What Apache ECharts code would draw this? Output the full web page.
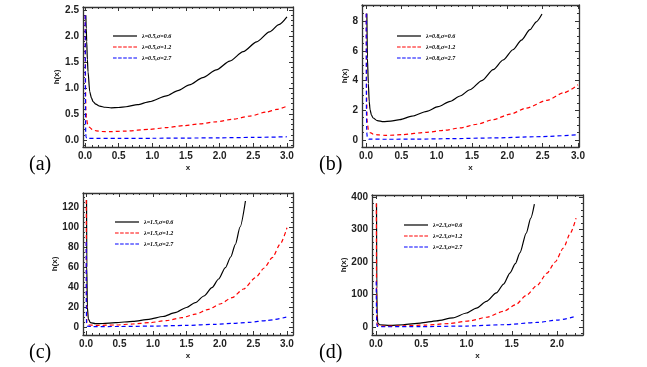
<!DOCTYPE html>
<html><head><meta charset="utf-8">
<script src="https://cdn.jsdelivr.net/npm/echarts@6/dist/echarts.min.js"></script>
<style>html,body{margin:0;padding:0;background:#fff}#c{width:647px;height:367px}</style>
</head><body><div id="c"></div>
<script>
// ---- tick labels ----
const xTicks3 = [0, 0.5, 1, 1.5, 2, 2.5, 3];
const xTicks2 = [0, 0.5, 1, 1.5, 2];
const yTicksA = [0, 0.5, 1, 1.5, 2, 2.5];
const yTicksB = [0, 2, 4, 6, 8];
const yTicksC = [0, 20, 40, 60, 80, 100, 120];
const yTicksD = [0, 100, 200, 300, 400];
const panelLetters = ['(a)', '(b)', '(c)', '(d)'];
const lambdas = ['0.5', '0.8', '1.5', '2.3'];
const sigmas = ['0.6', '1.2', '2.7'];

// ---- series values [x, h(x)] ----
const a06 = [[0.012,2.4],[0.018,2.15],[0.025,1.9],[0.035,1.55],[0.045,1.31],[0.07,0.93],[0.095,0.81],[0.12,0.74],[0.16,0.69],[0.22,0.65],[0.3,0.63],[0.39,0.62],[0.5,0.625],[0.61,0.64],[0.78,0.68],[0.96,0.74],[1.21,0.85],[1.38,0.95],[1.55,1.06],[1.75,1.2],[1.95,1.35],[2.15,1.52],[2.35,1.70],[2.55,1.89],[2.74,2.08],[2.88,2.22],[3.0,2.37]];
const a12 = [[0.004,2.4],[0.008,1.0],[0.012,0.6],[0.02,0.42],[0.04,0.3],[0.07,0.24],[0.11,0.2],[0.17,0.175],[0.25,0.165],[0.37,0.16],[0.6,0.172],[0.96,0.205],[1.2,0.237],[1.46,0.275],[1.7,0.31],[1.95,0.35],[2.2,0.4],[2.45,0.46],[2.7,0.54],[2.85,0.59],[3.0,0.65]];
const a27 = [[0.003,2.4],[0.006,0.8],[0.01,0.15],[0.015,0.05],[0.03,0.032],[0.5,0.03],[1.0,0.033],[1.5,0.037],[2.0,0.042],[2.5,0.05],[3.0,0.062]];

const b06 = [[0.012,8.5],[0.02,5.5],[0.033,3.8],[0.045,2.6],[0.057,2.04],[0.075,1.7],[0.1,1.48],[0.16,1.3],[0.245,1.23],[0.35,1.27],[0.48,1.37],[0.65,1.6],[0.86,1.93],[1.02,2.24],[1.19,2.6],[1.33,2.96],[1.47,3.38],[1.64,4.0],[1.8,4.73],[1.94,5.38],[2.08,6.07],[2.2,6.72],[2.32,7.42],[2.41,7.95],[2.49,8.47]];
const b12 = [[0.004,8.5],[0.008,3.0],[0.015,1.3],[0.033,0.69],[0.06,0.5],[0.1,0.4],[0.18,0.34],[0.29,0.31],[0.5,0.36],[0.86,0.52],[1.1,0.65],[1.33,0.81],[1.57,1.06],[1.8,1.37],[2.04,1.74],[2.27,2.15],[2.56,2.67],[2.8,3.18],[3.0,3.72]];
const b27 = [[0.003,8.5],[0.006,2],[0.01,0.5],[0.02,0.12],[0.04,0.06],[0.3,0.05],[0.7,0.06],[1.2,0.09],[1.8,0.14],[2.4,0.22],[3.0,0.35]];

const c06 = [[0.008,127],[0.012,60],[0.02,20],[0.035,8],[0.065,4.3],[0.14,3.3],[0.25,3.5],[0.44,4.3],[0.7,5.7],[0.94,7.7],[1.15,10.5],[1.33,14.3],[1.5,19.5],[1.63,24.3],[1.76,31],[1.88,39.3],[1.98,48],[2.08,59.3],[2.16,70],[2.23,82.7],[2.3,100],[2.38,126]];
const c12 = [[0.004,127],[0.007,25],[0.012,4],[0.03,2],[0.15,1.6],[0.44,2],[0.7,3],[0.94,4.3],[1.2,6.4],[1.43,9.3],[1.63,12.8],[1.83,17.7],[2.0,23],[2.18,29.3],[2.35,38],[2.53,49.3],[2.66,59],[2.78,69.3],[2.9,83],[3.0,99.3]];
const c27 = [[0.003,85],[0.005,20],[0.008,3],[0.015,0.8],[0.1,0.4],[0.5,0.5],[1.0,0.9],[1.5,1.6],[1.93,2.7],[2.2,3.6],[2.43,4.6],[2.7,6.5],[3.0,10]];

const d06 = [[0.006,380],[0.009,120],[0.013,40],[0.02,12],[0.04,7],[0.155,5],[0.3,7],[0.49,12],[0.67,19],[0.85,28],[1.0,43],[1.11,58],[1.22,79],[1.33,105],[1.41,132],[1.48,166],[1.54,195],[1.59,228],[1.66,289],[1.71,335],[1.75,378]];
const d12 = [[0.004,380],[0.007,50],[0.012,8],[0.03,3],[0.1,2.5],[0.3,3.5],[0.55,6],[0.8,10.5],[1.04,19],[1.22,30],[1.41,48],[1.54,68],[1.66,97],[1.78,128],[1.89,166],[1.98,200],[2.07,243],[2.15,290],[2.21,335]];
const d27 = [[0.003,140],[0.005,60],[0.008,10],[0.015,1.5],[0.1,0.8],[0.5,1.2],[1.0,3],[1.41,7],[1.78,14],[2.0,21],[2.21,33]];

const panelSeries = [[a06,a12,a27],[b06,b12,b27],[c06,c12,c27],[d06,d12,d27]];

// ---- layout (styles/positions) ----
const layouts = [
  {grid:{left:83,top:7,width:210,height:140}, x:[-0.03,3.09], y:[-0.135,2.56], xt:xTicks3, yt:yTicksA, xm:0.1, ym:0.1, yDec:1, yGap:13, legend:{left:113,top:33}, letter:{left:29,top:155}},
  {grid:{left:362,top:5,width:217,height:142}, x:[-0.057,3.014], y:[-0.47,9.08], xt:xTicks3, yt:yTicksB, xm:0.1, ym:0.5, yDec:0, yGap:8, legend:{left:397,top:33}, letter:{left:319,top:155}},
  {grid:{left:83,top:193,width:210,height:142}, x:[-0.045,3.09], y:[-8,134], xt:xTicks3, yt:yTicksC, xm:0.1, ym:5, yDec:0, yGap:13, legend:{left:115,top:219}, letter:{left:29,top:343}},
  {grid:{left:372,top:195,width:211,height:140}, x:[-0.044,2.287], y:[-24.6,406], xt:xTicks2, yt:yTicksD, xm:0.1, ym:20, yDec:0, yGap:15, legend:{left:404,top:222}, letter:{left:319,top:343}}
];
const colors = ['#000000', '#ff0000', '#0000ff'];
const dashes = ['solid', [4, 3], [4, 3]];
const legendIcons = [
  'path://M0,0h24v1.2h-24z',
  'path://M0,0h3.6v1.2h-3.6zM5.1,0h3.6v1.2h-3.6zM10.2,0h3.6v1.2h-3.6zM15.3,0h3.6v1.2h-3.6zM20.4,0h3.6v1.2h-3.6z',
  'path://M0,0h3.6v1.2h-3.6zM5.1,0h3.6v1.2h-3.6zM10.2,0h3.6v1.2h-3.6zM15.3,0h3.6v1.2h-3.6zM20.4,0h3.6v1.2h-3.6z'
];
const frameColor = '#333';

function minorTicks(range, step, majors) {
  const out = [];
  const k0 = Math.ceil(range[0] / step - 1e-9), k1 = Math.floor(range[1] / step + 1e-9);
  for (let k = k0; k <= k1; k++) {
    const v = Math.round(k * step * 1e6) / 1e6;
    if (!majors.some(m => Math.abs(m - v) < 1e-9)) out.push(v);
  }
  return out;
}

const grids = [], xAxes = [], yAxes = [], series = [], legends = [], titles = [];
const labelFont = {fontFamily: 'Liberation Sans', fontSize: 10, fontWeight: 'bold', color: '#222'};
const nameFont = {fontFamily: 'Liberation Sans', fontSize: 8, fontWeight: 'bold', color: '#222'};

layouts.forEach((L, p) => {
  grids.push(L.grid);
  const xMinor = minorTicks(L.x, L.xm, L.xt);
  const yMinor = minorTicks(L.y, L.ym, L.yt);
  const base = (pos, isX, major, vals) => ({
    type: 'value', gridIndex: p, position: pos,
    min: isX ? L.x[0] : L.y[0], max: isX ? L.x[1] : L.y[1],
    splitLine: {show: false},
    axisLine: {show: major, onZero: false, lineStyle: {color: frameColor, width: 1.3}},
    axisTick: {show: true, inside: true, length: major ? 4 : 2, customValues: vals, lineStyle: {color: frameColor, width: 1}},
    axisLabel: {show: false}
  });
  const xb = base('bottom', true, true, L.xt);
  xb.axisLabel = Object.assign({show: true, customValues: L.xt, margin: 4, formatter: v => v.toFixed(1)}, labelFont);
  xb.name = 'x'; xb.nameLocation = 'middle'; xb.nameGap = 17; xb.nameTextStyle = nameFont;
  xAxes.push(xb, base('bottom', true, false, xMinor), base('top', true, true, L.xt), base('top', true, false, xMinor));
  const yl = base('left', false, true, L.yt);
  yl.axisLabel = Object.assign({show: true, customValues: L.yt, margin: 4, formatter: v => v.toFixed(L.yDec)}, labelFont);
  yl.name = 'h(x)'; yl.nameLocation = 'middle'; yl.nameGap = L.yGap; yl.nameTextStyle = nameFont;
  yAxes.push(yl, base('left', false, false, yMinor), base('right', false, true, L.yt), base('right', false, false, yMinor));

  const legendItems = [];
  panelSeries[p].forEach((data, i) => {
    const nm = 'λ=' + lambdas[p] + ',σ=' + sigmas[i];
    legendItems.push({name: nm, icon: legendIcons[i], itemStyle: {color: colors[i], borderWidth: 0}});
    series.push({
      name: nm, type: 'line', xAxisIndex: 4 * p, yAxisIndex: 4 * p, data: data,
      showSymbol: false, symbol: 'none', clip: true, smooth: 0.25, smoothMonotone: 'x',
      lineStyle: {color: colors[i], width: 1.2, type: dashes[i]}, itemStyle: {color: colors[i]},
      z: 2 + i, silent: true
    });
  });
  legends.push({
    left: L.legend.left, top: L.legend.top, orient: 'vertical', data: legendItems,
    itemWidth: 24, itemHeight: 1.2, itemGap: 5, padding: 0, selectedMode: false,
    textStyle: {fontFamily: 'Liberation Serif', fontSize: 6, fontWeight: 'bold', fontStyle: 'italic', color: '#000', lineHeight: 6}
  });
  titles.push({
    text: panelLetters[p], left: L.letter.left, top: L.letter.top, padding: 0,
    textStyle: {fontFamily: 'Liberation Serif', fontSize: 20, fontWeight: 'normal', color: '#000'}
  });
});

const chart = echarts.init(document.getElementById('c'), null, {renderer: 'canvas'});
chart.setOption({
  animation: false, backgroundColor: '#fff',
  title: titles, grid: grids, xAxis: xAxes, yAxis: yAxes, legend: legends, series: series
});
</script></body></html>
